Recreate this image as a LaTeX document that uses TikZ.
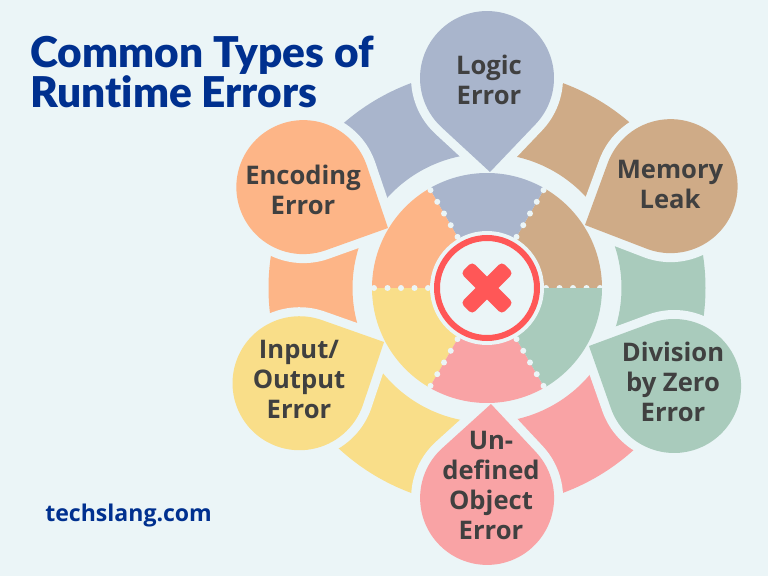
\documentclass[tikz,border=0pt]{standalone}
\usepackage{fontspec}
\setmainfont{Open Sans}
\newfontfamily\titlefont[Ligatures=NoCommon]{Lato Black}
\definecolor{paleback}{HTML}{EBF5F7}
\definecolor{logicblue}{HTML}{A9B5CC}
\definecolor{leaktan}{HTML}{CFAB87}
\definecolor{zerogreen}{HTML}{A9CBBC}
\definecolor{objectpink}{HTML}{F9A3A5}
\definecolor{inputyellow}{HTML}{F9DE89}
\definecolor{encodeorange}{HTML}{FDB587}
\definecolor{crossred}{HTML}{FF5757}
\definecolor{labelgrey}{HTML}{404040}
\definecolor{titlenavy}{HTML}{00308F}
\tikzset{
  errorlabel/.style={text=labelgrey,align=center,font=\fontsize{19.2}{22.5}\selectfont\bfseries},
  halo/.style={preaction={draw=paleback,line width=13.5pt,line join=round}}
}
\begin{document}
\begin{tikzpicture}[x=0.75pt,y=0.75pt]

    \useasboundingbox (0,0) rectangle (768,576);
    \fill[paleback] (0,0) rectangle (768,576);

    % outer band
    \begin{scope}[shift={(487,288)}]
      \foreach \start/\stop/\col in {90/150/logicblue,30/90/leaktan,-30/30/zerogreen,-90/-30/objectpink,210/270/inputyellow,150/210/encodeorange}{
        \fill[\col] (\start:134.5) arc [start angle=\start, end angle=\stop, radius=134.5] -- (\stop:218.5) arc [start angle=\stop, end angle=\start, radius=218.5] -- cycle;
      }
    \end{scope}

    % petals
    \foreach \tipx/\tipy/\ang/\col in {490/404/91.8/logicblue,585/351/24.4/leaktan,589/230/-25.2/zerogreen,491/172/267.6/objectpink,384/234/206/inputyellow,388/348/154.2/encodeorange}{
      \begin{scope}[shift={(\tipx,\tipy)},rotate=\ang-90]
        \fill[\col,halo] (0,0) -- (47,46.3) arc [start angle=-45.4, end angle=225.4, radius=67] -- cycle;
      \end{scope}
    }

    \begin{scope}[shift={(487,288)}]

      % inner wheel
      \foreach \start/\col in {0/leaktan,60/logicblue,120/encodeorange,180/inputyellow,240/objectpink,300/zerogreen}{
        \fill[\col] (0,0) -- (\start:115) arc [start angle=\start, end angle=\start+60, radius=115] -- cycle;
        \foreach \r in {59,72.5,86,99.5,113}{
          \fill[paleback] (\start:\r) circle [radius=3];
        }
      }

      % hub
      \fill[paleback] (0,0) circle [radius=57];
      \draw[crossred,line width=4.5pt] (0,0) circle [radius=50];
      \fill[crossred,rotate=45,rounded corners=3] (-29,-8) rectangle (29,8);
      \fill[crossred,rotate=-45,rounded corners=3] (-29,-8) rectangle (29,8);

    \end{scope}

    \node[errorlabel] (logic) at (489,496) {Logic\\Error};
    \node[errorlabel] (memory) at (670,391.5) {Memory\\Leak};
    \node[errorlabel] (division) at (673,194.5) {Division\\by Zero\\Error};
    \node[errorlabel] (object) at (491,91) {Un-\\defined\\Object\\Error};
    \node[errorlabel] (input) at (299,197) {Input/\\Output\\Error};
    \node[errorlabel] (encoding) at (303,386) {Encoding\\Error};

    \node[anchor=west,inner sep=0pt,align=left,text=titlenavy,font=\fontsize{31.8}{30}\selectfont\titlefont] (title) at (30,504) {Common Types of\\Runtime Errors};
    \node[anchor=west,inner sep=0pt,text=titlenavy,font=\fontsize{17.3}{19}\selectfont\bfseries] (site) at (45,60) {techslang.com};

  \end{tikzpicture}
\end{document}
